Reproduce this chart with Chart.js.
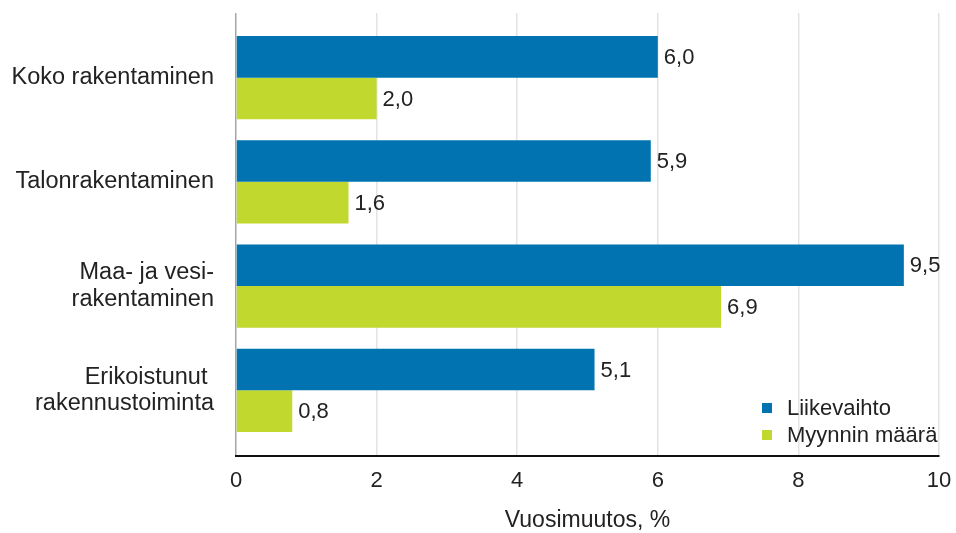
<!DOCTYPE html>
<html>
<head>
<meta charset="utf-8">
<script src="https://cdn.jsdelivr.net/npm/chart.js@4"></script>
<style>
  html, body { margin: 0; padding: 0; background: #fff; }
  #wrap { width: 956px; height: 533px; }
</style>
</head>
<body>
<div id="wrap"><canvas id="barChart" width="956" height="533"></canvas></div>
<script>
// categories (multi-line labels as arrays)
const categories = [
  ["Koko rakentaminen"],
  ["Talonrakentaminen"],
  ["Maa- ja vesi-", "rakentaminen"],
  ["Erikoistunut ", "rakennustoiminta"],
];
const seriesNames = ["Liikevaihto", "Myynnin määrä"];
const liikevaihto = [6.0, 5.9, 9.5, 5.1];
const myynninMaara = [2.0, 1.6, 6.9, 0.8];
const xTicks = [0, 2, 4, 6, 8, 10];
const axisTitle = "Vuosimuutos, %";

const colors = ["#0073b0", "#c1d82f"];
const textColor = "#222";
const fontFamily = "'Liberation Sans', Arial, sans-serif";

function toPoints(values) {
  // index axis is linear so the category spacing can be set exactly
  return values.map((v, i) => ({ x: v, y: i }));
}

function formatValue(v) {
  return v.toFixed(1).replace(".", ",");
}

// value labels at the end of each bar
const valueLabels = {
  id: "valueLabels",
  afterDatasetsDraw(chart) {
    const ctx = chart.ctx;
    ctx.save();
    ctx.font = "22px " + fontFamily;
    ctx.fillStyle = textColor;
    ctx.textAlign = "left";
    ctx.textBaseline = "middle";
    chart.data.datasets.forEach((ds, di) => {
      const meta = chart.getDatasetMeta(di);
      meta.data.forEach((bar, i) => {
        ctx.fillText(formatValue(ds.data[i].x), bar.x + 6, bar.y + 1);
      });
    });
    ctx.restore();
  },
};

// legend inside the plot, bottom right
const innerLegend = {
  id: "innerLegend",
  afterDraw(chart) {
    const ctx = chart.ctx;
    const area = chart.chartArea;
    const x = area.right - 177;
    let y = area.bottom - 48;
    ctx.save();
    ctx.font = "22px " + fontFamily;
    ctx.textAlign = "left";
    ctx.textBaseline = "middle";
    chart.data.datasets.forEach((ds) => {
      ctx.fillStyle = ds.backgroundColor;
      ctx.fillRect(x, y - 5, 10, 10);
      ctx.fillStyle = textColor;
      ctx.fillText(ds.label, x + 25, y + 1);
      y += 27;
    });
    ctx.restore();
  },
};

const config = {
  type: "bar",
  data: {
    datasets: [
      {
        label: seriesNames[0],
        data: toPoints(liikevaihto),
        backgroundColor: colors[0],
      },
      {
        label: seriesNames[1],
        data: toPoints(myynninMaara),
        backgroundColor: colors[1],
      },
    ],
  },
  options: {
    indexAxis: "y",
    responsive: false,
    animation: false,
    categoryPercentage: 0.8,
    barPercentage: 1.0,
    layout: { padding: { top: 13, right: 17, left: 0, bottom: 0 } },
    plugins: {
      legend: { display: false },
      tooltip: { enabled: false },
    },
    scales: {
      x: {
        type: "linear",
        min: 0,
        max: 10,
        afterBuildTicks: (scale) => {
          scale.ticks = xTicks.map((v) => ({ value: v }));
        },
        afterFit: (scale) => {
          scale.height = 77;
          scale.paddingLeft = 0;
          scale.paddingRight = 0;
        },
        grid: {
          drawTicks: false,
          lineWidth: 1.5,
          color: (c) => (c.tick && c.tick.value === 0 ? "#a6a6a6" : "#e3e3e3"),
        },
        border: { display: true, color: "#111", width: 2 },
        ticks: {
          padding: 12,
          color: textColor,
          font: { family: fontFamily, size: 22 },
        },
        title: {
          display: true,
          text: axisTitle,
          color: textColor,
          font: { family: fontFamily, size: 23, lineHeight: 1 },
          padding: { top: 0, bottom: 1 },
        },
      },
      y: {
        type: "linear",
        reverse: true,
        offset: false,
        min: -0.62,
        max: 3.63,
        afterBuildTicks: (scale) => {
          scale.ticks = categories.map((c, i) => ({ value: i }));
        },
        afterFit: (scale) => {
          scale.width = 236;
          // labels sit well inside the range, no edge padding needed
          scale.paddingTop = 0;
          scale.paddingBottom = 0;
        },
        grid: { display: false },
        border: { display: false },
        ticks: {
          padding: 14,
          color: textColor,
          autoSkip: false,
          font: { family: fontFamily, size: 23.5, lineHeight: 1.12 },
          callback: (value) => categories[value],
        },
      },
    },
  },
  plugins: [valueLabels, innerLegend],
};

window.addEventListener("load", () => {
  const ctx = document.getElementById("barChart").getContext("2d");
  new Chart(ctx, config);
});
</script>
</body>
</html>
